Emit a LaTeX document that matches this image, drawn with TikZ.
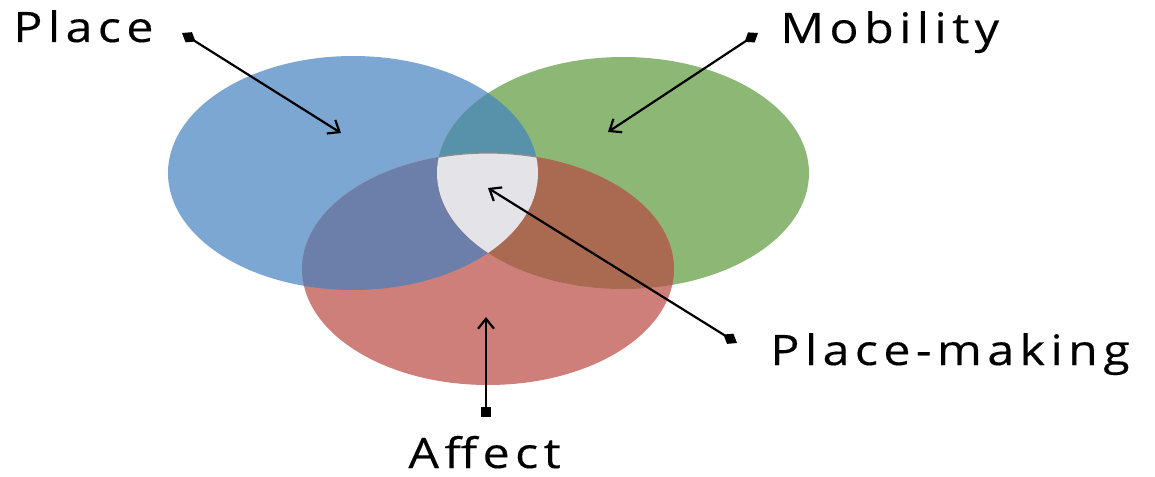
\documentclass[tikz,border=0pt]{standalone}
\usepackage{fontspec}
\usepackage{tikz}
\usetikzlibrary{arrows.meta}
\newfontfamily\labelfont[FakeStretch=1.15,LetterSpace=13,FakeBold=0.3]{Open Sans}

\definecolor{placeblue}{RGB}{124,167,211}
\definecolor{mobgreen}{RGB}{141,183,117}
\definecolor{affectred}{RGB}{207,127,122}
\definecolor{bgteal}{RGB}{88,146,170}
\definecolor{brslate}{RGB}{108,127,170}
\definecolor{grbrown}{RGB}{170,106,82}
\definecolor{coregray}{RGB}{227,227,232}

\begin{document}
\begin{tikzpicture}[x=0.5pt,y=-0.5pt,
    pointer/.style={line width=1.1pt,{Diamond[length=8pt,width=6pt]}-{Straight Barb[length=5pt,width=8pt]}},
    sqpointer/.style={line width=1.1pt,{Square[length=5pt,width=5pt]}-{Straight Barb[length=5pt,width=8pt]}}]
\useasboundingbox (0,0) rectangle (1155,476);

% circles
\fill[placeblue] (353,173) ellipse [x radius=185, y radius=117];
\fill[mobgreen] (623,173) ellipse [x radius=186, y radius=116];
\fill[affectred] (488,269) ellipse [x radius=186, y radius=116];
\begin{scope}
    \clip (353,173) ellipse [x radius=185, y radius=117];
    \fill[bgteal] (623,173) ellipse [x radius=186, y radius=116];
    \fill[brslate] (488,269) ellipse [x radius=186, y radius=116];
\end{scope}
\begin{scope}
    \clip (623,173) ellipse [x radius=186, y radius=116];
    \fill[grbrown] (488,269) ellipse [x radius=186, y radius=116];
    \clip (353,173) ellipse [x radius=185, y radius=117];
    \fill[coregray, draw=black!45, line width=0.6pt] (488,269) ellipse [x radius=186, y radius=116];
\end{scope}

%labels
\begin{scope}[every node/.style={inner sep=0pt,anchor=base west,font=\labelfont\fontsize{21}{25}\selectfont}]
    \node (place) at (13,42) {Place};
    \node (mobility) at (780,43) {Mobility};
    \node (making) at (770,365) {Place-making};
    \node (affect) at (408,468) {Affect};
\end{scope}

\coordinate (placeT) at (182,33);
\coordinate (placeH) at (341,133);
\coordinate (mobT) at (758,33);
\coordinate (mobH) at (608,132);
\coordinate (makeT) at (737,343);
\coordinate (makeH) at (488,188);
\coordinate (affT) at (486,417);
\coordinate (affH) at (486,317);

\draw[pointer] (placeT) -- (placeH);
\draw[pointer] (mobT) -- (mobH);
\draw[pointer] (makeT) -- (makeH);
\draw[sqpointer] (affT) -- (affH);
\end{tikzpicture}
\end{document}
